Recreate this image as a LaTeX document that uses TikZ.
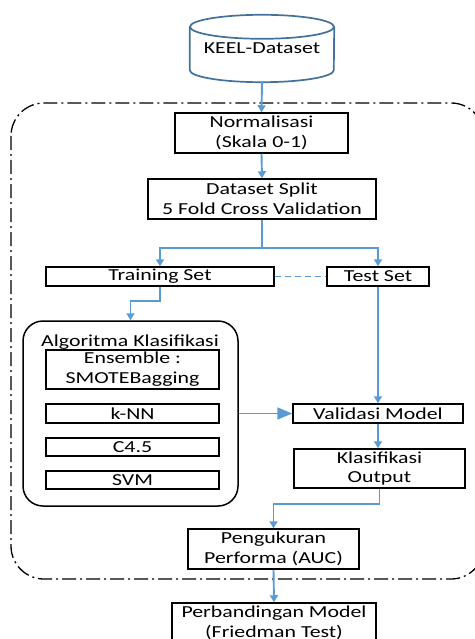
\documentclass[tikz,border=0pt]{standalone}
\usepackage{fontspec}
\setmainfont{Carlito}[FakeStretch=1.3]
\usetikzlibrary{arrows.meta,calc}
\definecolor{lblue}{HTML}{5B9BD5}
\definecolor{cblue}{HTML}{41719C}
\begin{document}
\begin{tikzpicture}[x=1pt,y=-1pt,
  txt/.style={font=\fontsize{16.8}{19.8}\selectfont},
  box/.style={txt, draw=black, line width=1.5pt, inner sep=0pt, align=center},
  arr/.style={draw=lblue, line width=1.9pt, -{Triangle[width=8pt,length=7pt]}},
  bigarr/.style={draw=lblue, line width=1.9pt, -{Triangle[width=12pt,length=15pt]}},
  link/.style={draw=lblue, line width=1.9pt, dash pattern=on 6pt off 4pt},
  frame/.style={draw=black, line width=1.3pt, dash pattern=on 14pt off 4pt on 2pt off 4pt, rounded corners=33pt}
]
\useasboundingbox (0,0) rectangle (474,639);
% outer frame
\draw[frame] (11,103) rectangle (484,579);
% cylinder
\node[txt, minimum width=144pt, minimum height=43pt, inner sep=0pt] (keel) at (262,48.5) {\raisebox{-8pt}{KEEL-Dataset}};
\draw[cblue, line width=1.7pt] (keel.north west) -- (keel.south west)
  arc[start angle=180, end angle=360, x radius=72pt, y radius=12pt] -- (keel.north east);
\draw[cblue, line width=1.7pt] (keel.north) ellipse[x radius=72pt, y radius=12pt];
\coordinate (keelb) at ($(keel.south)+(0,12)$);
% boxes
\node[box, minimum width=173pt, minimum height=40pt] (norm) at (261.5,133) {Normalisasi\\(Skala 0-1)};
\node[box, minimum width=228pt, minimum height=40pt] (split) at (262,199) {Dataset Split\\5 Fold Cross Validation};
\node[box, minimum width=228pt, minimum height=19pt] (train) at (160,276.5) {Training Set};
\node[box, minimum width=102pt, minimum height=19pt] (test) at (378,276.5) {Test Set};
\node[draw=black, line width=1.5pt, rounded corners=20pt, minimum width=215pt, minimum height=185pt] (algo) at (130.5,413.5) {};
\node[txt] (algolbl) at (130,342) {Algoritma Klasifikasi};
\node[box, minimum width=173pt, minimum height=39pt] (ens) at (132.5,369.5) {Ensemble :\\SMOTEBagging};
\node[box, minimum width=173pt, minimum height=19pt] (knn) at (132.5,413.5) {k-NN};
\node[box, minimum width=173pt, minimum height=18pt] (c45) at (132.5,447) {C4.5};
\node[box, minimum width=173pt, minimum height=18pt] (svm) at (132.5,480) {SVM};
\node[box, minimum width=170pt, minimum height=19pt] (valid) at (378,413.5) {Validasi Model};
\node[box, minimum width=171pt, minimum height=39pt] (klas) at (379.5,468.5) {Klasifikasi\\Output};
\node[box, minimum width=171pt, minimum height=40pt] (peng) at (273.5,549) {Pengukuran\\Performa (AUC)};
\node[box, minimum width=204pt, minimum height=40pt] (perb) at (274,623) {Perbandingan Model\\(Friedman Test)};
% connectors
\draw[arr] (keelb) -- (norm.north);
\draw[arr] (norm.south) -- (split.north);
\draw[arr] (split.south) -- ++(0,28) -| (train.north);
\draw[arr] (split.south) -- ++(0,28) -| (test.north);
\draw[link] (train.east) -- (test.west);
\draw[arr] (train.south) -- ++(0,14) -| (algo.north);
\draw[bigarr] (algo.east) -- (valid.west);
\draw[arr] (test.south) -- (valid.north);
\draw[arr] (valid.south) -- (valid.south |- klas.north);
\draw[arr] (klas.south) -- ++(0,15) -| (peng.north);
\draw[arr] (peng.south) -- (perb.north);
\end{tikzpicture}
\end{document}
